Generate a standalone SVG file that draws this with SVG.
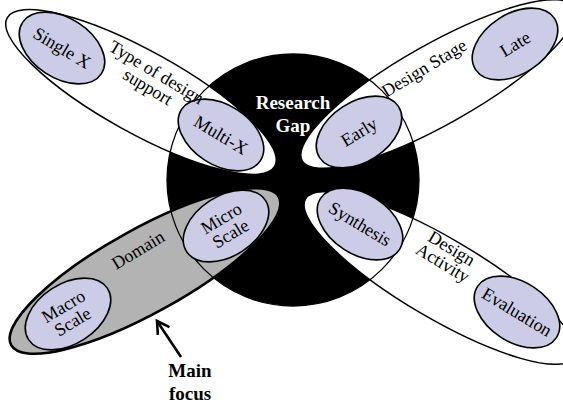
<svg xmlns="http://www.w3.org/2000/svg" width="563" height="404" viewBox="0 0 563 404">
<defs>
<style>
.outer{fill:#ffffff;stroke:#000;stroke-width:1.5}
.focus{fill:#b3b3b3;stroke:#000;stroke-width:2.6}
.inner{fill:#cccce6;stroke:#000;stroke-width:1.6}
.lbl{font-family:"Liberation Serif","Times New Roman",serif;font-size:18px;fill:#000;text-anchor:middle}
.bold{font-family:"Liberation Serif","Times New Roman",serif;font-size:19px;font-weight:bold;text-anchor:middle}
</style>
<marker id="chev" viewBox="0 0 18 18" refX="15" refY="9" markerWidth="18" markerHeight="18" orient="auto" markerUnits="userSpaceOnUse">
<path d="M3,2 L15,9 L3,16" fill="none" stroke="#000" stroke-width="2.6" stroke-linejoin="miter"/>
</marker>
</defs>
<rect width="563" height="404" fill="#fff"/>
<g id="research-gap">
<circle cx="293" cy="180" r="126" fill="#000"/>
</g>
<g id="type-of-design-support">
<ellipse class="outer" cx="0" cy="0" rx="153" ry="41" transform="translate(141,92) rotate(29)"/>
</g>
<g id="design-stage">
<ellipse class="outer" cx="0" cy="0" rx="156" ry="40" transform="translate(438,84) rotate(-29.5)"/>
</g>
<g id="domain">
<ellipse class="focus" cx="0" cy="0" rx="153" ry="42" transform="translate(145,271) rotate(-29)"/>
</g>
<g id="design-activity">
<ellipse class="outer" cx="0" cy="0" rx="156" ry="40" transform="translate(440,278) rotate(30.5)"/>
</g>
<circle cx="293" cy="180" r="126" fill="none" stroke="#000" stroke-width="1.3"/>
<g id="research-gap-label">
<text class="bold" x="293" y="109" fill="#fff">Research</text>
<text class="bold" x="293" y="132" fill="#fff">Gap</text>
</g>
<g id="single-x">
<ellipse class="inner" cx="0" cy="0" rx="47" ry="30" transform="translate(62,48) rotate(33)"/>
<text class="lbl" transform="translate(62,48) rotate(31)" dy="6">Single X</text>
</g>
<g id="multi-x">
<ellipse class="inner" cx="0" cy="0" rx="47" ry="30" transform="translate(221,135) rotate(33)"/>
<text class="lbl" transform="translate(221,135) rotate(31)" dy="6">Multi-X</text>
</g>
<g id="early">
<ellipse class="inner" cx="0" cy="0" rx="47" ry="30" transform="translate(359,132) rotate(-33)"/>
<text class="lbl" transform="translate(359,132) rotate(-31)" dy="6">Early</text>
</g>
<g id="late">
<ellipse class="inner" cx="0" cy="0" rx="47" ry="30" transform="translate(515,44) rotate(-33)"/>
<text class="lbl" transform="translate(515,44) rotate(-31)" dy="6">Late</text>
</g>
<g id="micro-scale">
<ellipse class="inner" cx="0" cy="0" rx="47" ry="30" transform="translate(226,226) rotate(-33)"/>
<text class="lbl" transform="translate(226,226) rotate(-31)"><tspan x="0" y="-3">Micro</tspan><tspan x="0" y="15">Scale</tspan></text>
</g>
<g id="macro-scale">
<ellipse class="inner" cx="0" cy="0" rx="47" ry="30" transform="translate(68,314) rotate(-33)"/>
<text class="lbl" transform="translate(68,314) rotate(-31)"><tspan x="0" y="-3">Macro</tspan><tspan x="0" y="15">Scale</tspan></text>
</g>
<g id="synthesis">
<ellipse class="inner" cx="0" cy="0" rx="47" ry="30" transform="translate(360,224) rotate(33)"/>
<text class="lbl" transform="translate(360,224) rotate(31)" dy="6">Synthesis</text>
</g>
<g id="evaluation">
<ellipse class="inner" cx="0" cy="0" rx="47" ry="30" transform="translate(517,312) rotate(33)"/>
<text class="lbl" transform="translate(517,312) rotate(31)" dy="6">Evaluation</text>
</g>
<g id="category-labels">
<text class="lbl" transform="translate(152,80) rotate(31)"><tspan x="0" y="-3">Type of design</tspan><tspan x="0" y="14">support</tspan></text>
<text class="lbl" transform="translate(424,68) rotate(-31)" dy="6">Design Stage</text>
<text class="lbl" transform="translate(138,250) rotate(-31)" dy="6">Domain</text>
<text class="lbl" transform="translate(447,256) rotate(31)"><tspan x="0" y="-3">Design</tspan><tspan x="0" y="14">Activity</tspan></text>
</g>
<g id="main-focus">
<text class="bold" x="190" y="377">Main</text>
<text class="bold" x="190" y="400">focus</text>
</g>
<g id="connectors">
<path d="M181,357 L157,321" fill="none" stroke="#000" stroke-width="2.6" marker-end="url(#chev)"/>
</g>
</svg>
